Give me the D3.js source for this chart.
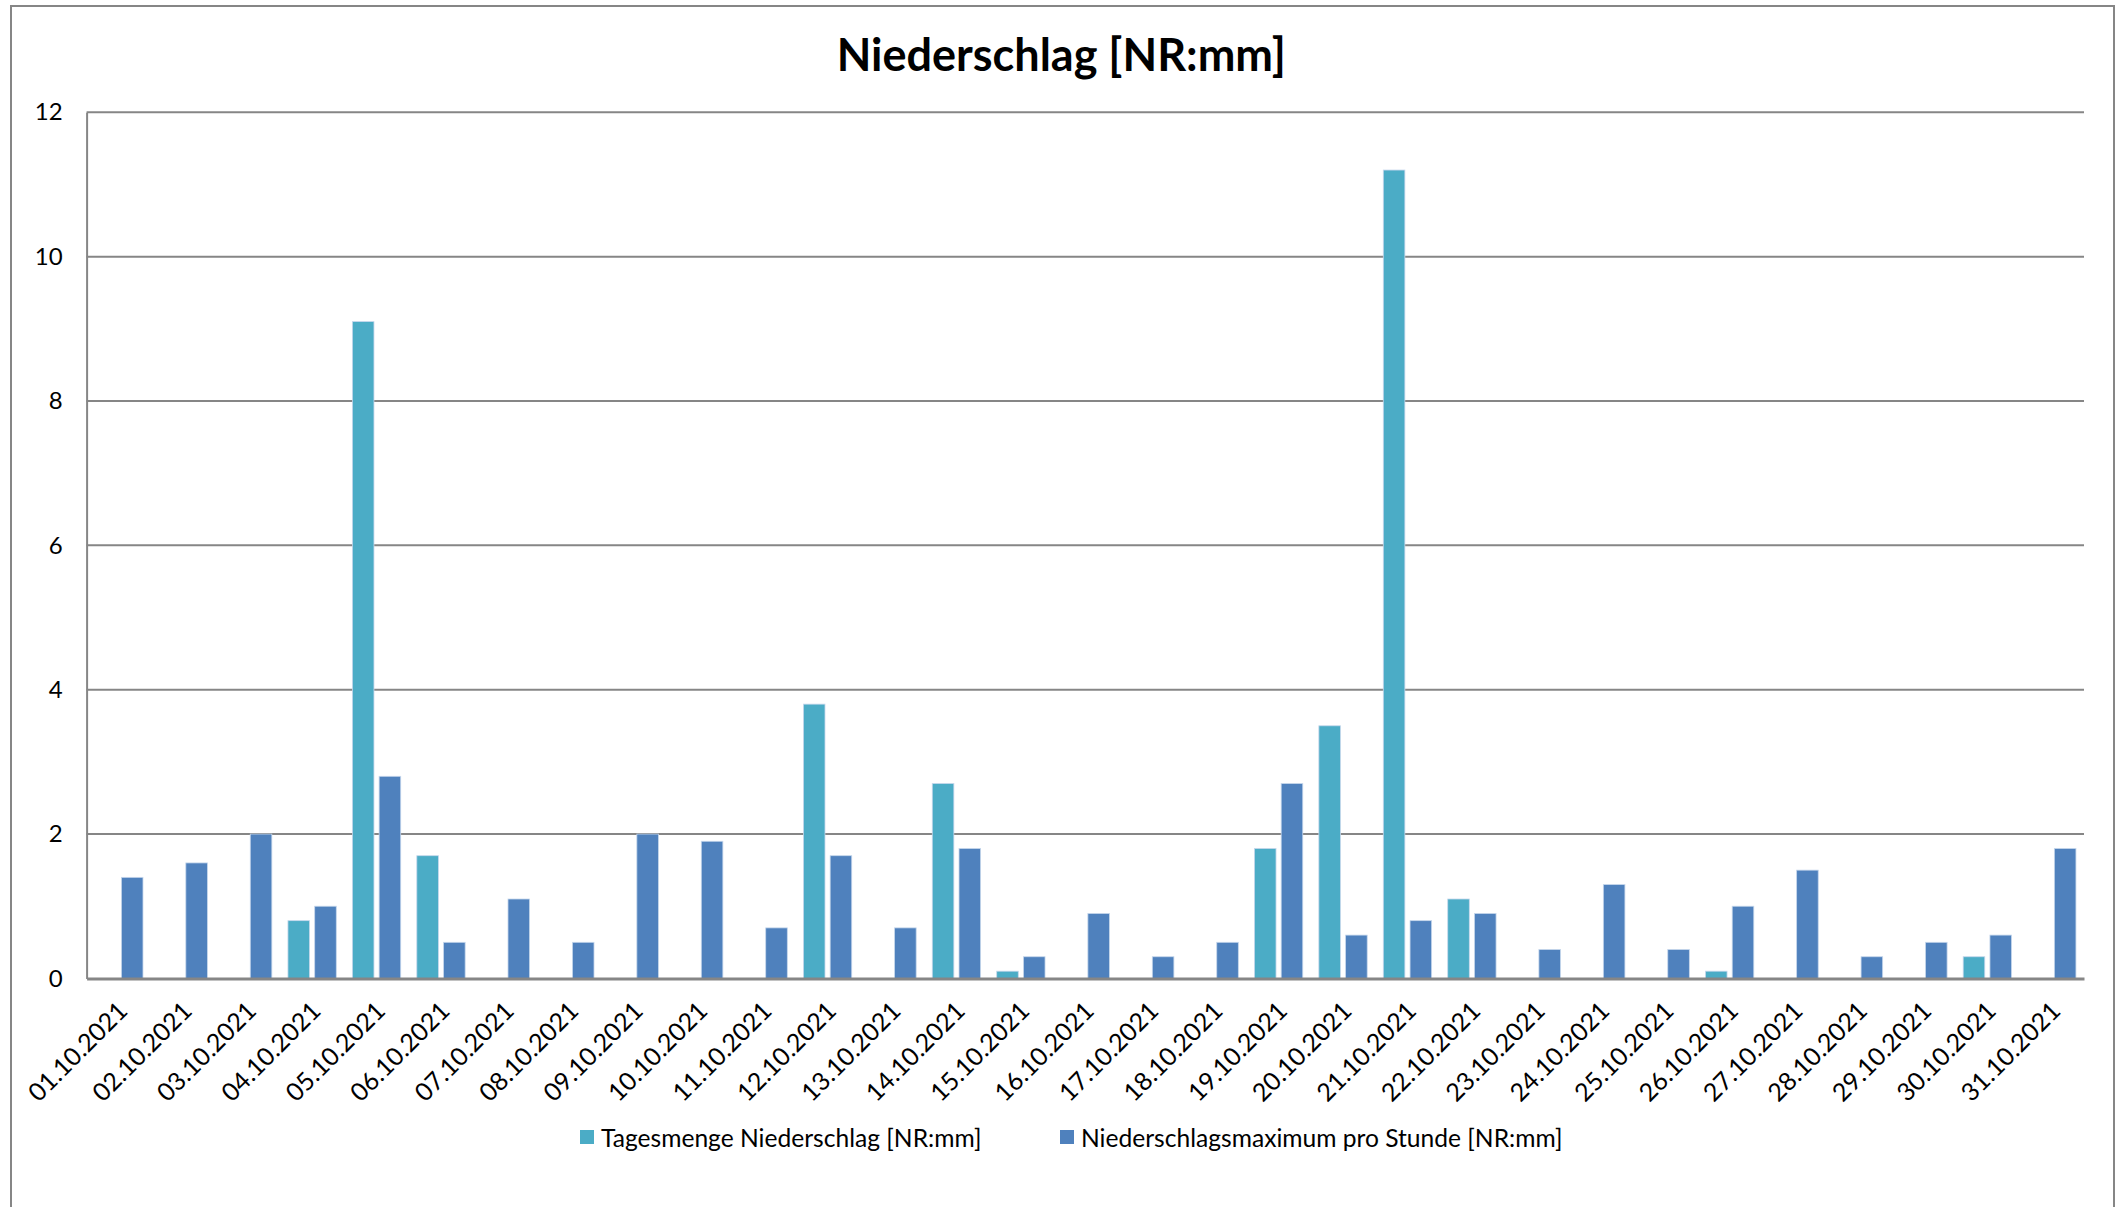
<!DOCTYPE html>
<html>
<head>
<meta charset="utf-8">
<script src="https://cdn.jsdelivr.net/npm/d3@7"></script>
<style>
  html, body { margin: 0; padding: 0; background: #fff; }
  svg { display: block; }
  text { font-family: Lato, "Open Sans", sans-serif; fill: #000; }
</style>
</head>
<body>
<svg id="chart" width="2122" height="1207"></svg>
<script>
const title = "Niederschlag [NR:mm]";
const dates = ["01.10.2021","02.10.2021","03.10.2021","04.10.2021","05.10.2021","06.10.2021","07.10.2021","08.10.2021","09.10.2021","10.10.2021","11.10.2021","12.10.2021","13.10.2021","14.10.2021","15.10.2021","16.10.2021","17.10.2021","18.10.2021","19.10.2021","20.10.2021","21.10.2021","22.10.2021","23.10.2021","24.10.2021","25.10.2021","26.10.2021","27.10.2021","28.10.2021","29.10.2021","30.10.2021","31.10.2021"];
const seriesNames = ["Tagesmenge Niederschlag [NR:mm]", "Niederschlagsmaximum pro Stunde [NR:mm]"];
const tagesmenge = [0,0,0,0.8,9.1,1.7,0,0,0,0,0,3.8,0,2.7,0.1,0,0,0,1.8,3.5,11.2,1.1,0,0,0,0.1,0,0,0,0.3,0];
const maximumProStunde = [1.4,1.6,2.0,1.0,2.8,0.5,1.1,0.5,2.0,1.9,0.7,1.7,0.7,1.8,0.3,0.9,0.3,0.5,2.7,0.6,0.8,0.9,0.4,1.3,0.4,1.0,1.5,0.3,0.5,0.6,1.8];
const yTicks = [0,2,4,6,8,10,12];
const colors = ["#4BACC6", "#4F81BD"];

const svg = d3.select("#chart");
const plot = {left: 86.6, right: 2084, top: 112.3, bottom: 978.4};

// outer border
svg.append("rect").attr("x", 11).attr("y", 6).attr("width", 2103).attr("height", 1215)
  .attr("fill", "#fff").attr("stroke", "#868686").attr("stroke-width", 2);

// title
svg.append("text").attr("x", (plot.left + plot.right) / 2 - 24).attr("y", 71)
  .attr("text-anchor", "middle").attr("font-size", 45).attr("font-weight", "bold")
  .text(title);

const x0 = d3.scaleBand().domain(dates).range([plot.left, plot.right]).paddingInner(0).paddingOuter(0);
const x1 = d3.scaleBand().domain([0, 1]).range([0, x0.bandwidth()]).paddingInner(0.193).paddingOuter(0.301);
const y = d3.scaleLinear().domain([0, 12]).range([plot.bottom, plot.top]);

// gridlines
svg.append("g").selectAll("line").data(yTicks.filter(d => d > 0)).join("line")
  .attr("x1", plot.left).attr("x2", plot.right)
  .attr("y1", d => y(d)).attr("y2", d => y(d))
  .attr("stroke", "#868686").attr("stroke-width", 2);

// y axis
const yAxis = d3.axisLeft(y).tickValues(yTicks).tickSize(0).tickPadding(24);
const gy = svg.append("g").attr("transform", `translate(${plot.left},0)`).call(yAxis);
gy.select(".domain").attr("stroke", "#868686").attr("stroke-width", 2);
gy.selectAll("text").attr("font-size", 24).attr("font-family", "Lato, sans-serif").attr("fill", "#000");

// bars
const series = [tagesmenge, maximumProStunde];
series.forEach((vals, si) => {
  svg.append("g").selectAll("rect").data(vals.map((v, i) => ({v, d: dates[i]})).filter(o => o.v > 0)).join("rect")
    .attr("x", o => x0(o.d) + x1(si))
    .attr("width", x1.bandwidth())
    .attr("y", o => y(o.v))
    .attr("height", o => y(0) - y(o.v))
    .attr("fill", colors[si])
    .attr("stroke", "#c6d7ec").attr("stroke-width", 0.8);
});

// x axis
const xAxis = d3.axisBottom(x0).tickSize(0).tickPadding(0);
const gx = svg.append("g").attr("transform", `translate(0,${plot.bottom})`).call(xAxis);
gx.select(".domain").attr("stroke", "#868686").attr("stroke-width", 3);
gx.selectAll("text")
  .attr("font-size", 25).attr("font-family", "Lato, sans-serif").attr("fill", "#000")
  .attr("text-anchor", "end")
  .attr("dy", "0.35em")
  .attr("transform", "translate(4,28) rotate(-45)");

// legend
const legendX = [580, 1060];
const legendY = 1138;
const lg = svg.append("g");
seriesNames.forEach((name, i) => {
  lg.append("rect").attr("x", legendX[i]).attr("y", legendY - 8).attr("width", 14).attr("height", 14).attr("fill", colors[i]);
  lg.append("text").attr("x", legendX[i] + 21).attr("y", legendY).attr("dy", "0.35em")
    .attr("font-size", 24.6).text(name);
});
</script>
</body>
</html>
